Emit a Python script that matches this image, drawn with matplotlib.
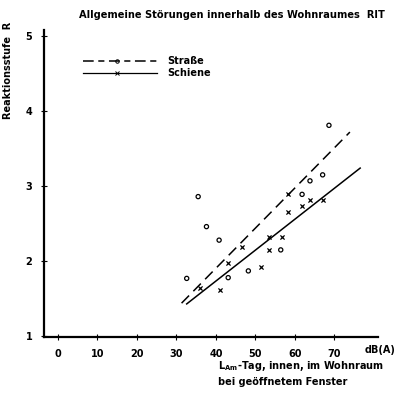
import numpy as np
import matplotlib
matplotlib.use('Agg')
import matplotlib.pyplot as plt

plt.rcParams['font.family'] = ['DejaVu Sans']
plt.rcParams['font.weight'] = 'bold'

# Strasse (o) - Messpunkte
strasse_x = [68.6, 67.0, 63.8, 61.8, 35.5, 37.6, 40.8, 32.6, 43.1, 56.4, 48.2]
strasse_y = [3.81, 3.15, 3.07, 2.89, 2.86, 2.46, 2.28, 1.77, 1.78, 2.15, 1.87]

# Schiene (x) - Messpunkte
schiene_x = [63.8, 61.9, 67.0, 58.3, 56.6, 53.5, 53.5, 46.5, 43.1, 41.0, 35.9, 58.3, 51.4]
schiene_y = [2.82, 2.73, 2.82, 2.66, 2.32, 2.32, 2.15, 2.19, 1.97, 1.62, 1.64, 2.89, 1.92]

# Regressionsgeraden (Endpunkte)
strasse_line_x = [31.3, 73.9]
strasse_line_y = [1.44, 3.72]
schiene_line_x = [32.6, 76.5]
schiene_line_y = [1.43, 3.24]

xticks = [0, 10, 20, 30, 40, 50, 60, 70]
yticks = [1, 2, 3, 4, 5]

fig = plt.figure(figsize=(3.97, 3.95), dpi=100)
ax = fig.add_axes([0.111, 0.147, 0.841, 0.777])

ax.plot(strasse_line_x, strasse_line_y, color='black', lw=1.1, dashes=(7, 4))
ax.plot(schiene_line_x, schiene_line_y, color='black', lw=1.1)
ax.scatter(strasse_x, strasse_y, s=9, facecolors='none', edgecolors='black', linewidths=0.9)
ax.scatter(schiene_x, schiene_y, s=9, marker='x', color='black', linewidths=0.9)

ax.set_xlim(-3.5, 81)
ax.set_ylim(0.99, 5.08)
ax.set_xticks(xticks)
ax.set_yticks(yticks)
for s in ['top', 'right']:
    ax.spines[s].set_visible(False)
for s in ['left', 'bottom']:
    ax.spines[s].set_linewidth(1.6)
ax.tick_params(direction='inout', length=5, width=0.8, labelsize=7, pad=6)

# Legende
ax.plot([6.3, 25], [4.67, 4.67], color='black', lw=1.1, dashes=(7, 3, 4, 3))
ax.plot([15], [4.67], marker='o', ms=2.5, mfc='none', mec='black', mew=0.7)
ax.text(27.6, 4.67, 'Straße', fontsize=7, va='center')
ax.plot([6.3, 25], [4.51, 4.51], color='black', lw=0.9)
ax.plot([15], [4.51], marker='x', ms=2.5, color='black', mew=0.7)
ax.text(27.6, 4.51, 'Schiene', fontsize=7, va='center')

fig.text(0.2, 0.962, 'Allgemeine Störungen innerhalb des Wohnraumes  RIT', fontsize=7.1, va='center')
fig.text(0.02, 0.823, 'Reaktionsstufe  R', fontsize=7, rotation=90, va='center', ha='center')
fig.text(0.918, 0.115, 'dB(A)', fontsize=7, va='center')
fig.text(0.548, 0.073, r'L$_{\mathbf{Am}}$-Tag, innen, im Wohnraum', fontsize=7, va='center')
fig.text(0.548, 0.033, 'bei geöffnetem Fenster', fontsize=7, va='center')

fig.savefig('out.png', dpi=100)
